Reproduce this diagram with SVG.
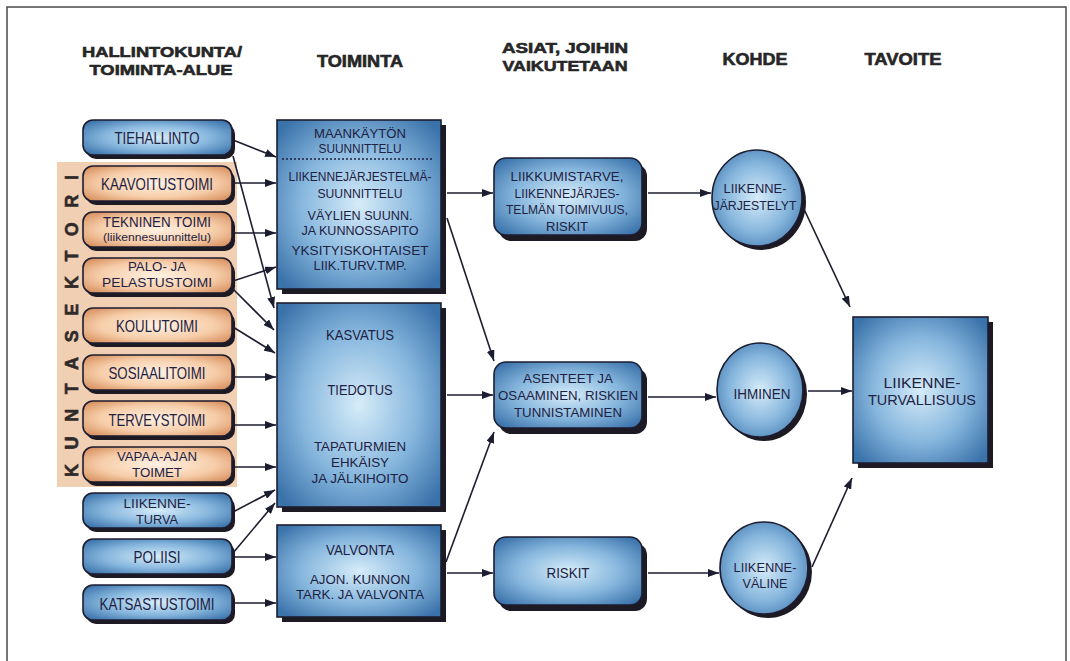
<svg xmlns="http://www.w3.org/2000/svg" width="1070" height="661" viewBox="0 0 1070 661">
<defs>
<radialGradient id="gB" cx="50%" cy="50%" r="65%">
<stop offset="0" stop-color="#d6ecf9"/>
<stop offset="0.55" stop-color="#86b6dd"/>
<stop offset="1" stop-color="#3a72aa"/>
</radialGradient>
<radialGradient id="gP" cx="50%" cy="50%" r="65%">
<stop offset="0" stop-color="#fff1e2"/>
<stop offset="0.6" stop-color="#f6cda9"/>
<stop offset="1" stop-color="#d8905f"/>
</radialGradient>
<marker id="ah" markerWidth="11" markerHeight="8" refX="11" refY="4" orient="auto" markerUnits="userSpaceOnUse">
<path d="M0,0 L11,4 L0,8 z" fill="#1c1d30"/>
</marker>
</defs>
<style>
.sh{fill:#1d1a24}
.bx{stroke:#1d1d30;stroke-width:1.6}
.b{fill:url(#gB)}
.p{fill:url(#gP)}
.n{font-family:"Liberation Sans",Arial,sans-serif;font-size:15px;fill:#1e2142;text-anchor:middle}
.s{font-size:17px}
.t{font-size:13.5px}
.sm{font-size:11px}
.h{font-family:"Liberation Sans",Arial,sans-serif;font-weight:bold;font-size:17px;fill:#262626;stroke:#262626;stroke-width:0.6;text-anchor:middle}
.h2{font-size:15.5px}
.c line{stroke:#1c1d30;stroke-width:1.6;marker-end:url(#ah)}
</style>
<rect x="0" y="0" width="1070" height="661" fill="#ffffff"/>
<rect x="7" y="7" width="1059" height="670" fill="none" stroke="#4a4a4a" stroke-width="1.5"/>

<g id="headers">
<text class="h h2" x="162" y="57" textLength="160" lengthAdjust="spacingAndGlyphs">HALLINTOKUNTA/</text>
<text class="h h2" x="161" y="75" textLength="143" lengthAdjust="spacingAndGlyphs">TOIMINTA-ALUE</text>
<text class="h" x="360" y="67" textLength="86" lengthAdjust="spacingAndGlyphs">TOIMINTA</text>
<text class="h h2" x="565" y="53" textLength="126" lengthAdjust="spacingAndGlyphs">ASIAT, JOIHIN</text>
<text class="h h2" x="565" y="71" textLength="125" lengthAdjust="spacingAndGlyphs">VAIKUTETAAN</text>
<text class="h" x="755" y="65" textLength="65" lengthAdjust="spacingAndGlyphs">KOHDE</text>
<text class="h" x="903" y="65" textLength="77" lengthAdjust="spacingAndGlyphs">TAVOITE</text>
</g>

<g id="kuntasektori">
<rect x="57" y="162" width="180" height="325" fill="#f1cfb2"/>
<text class="h" transform="translate(78,326) rotate(-90)" x="0" y="0" textLength="302" lengthAdjust="spacing" style="font-size:18px;fill:#2e2a2a;stroke:#2e2a2a">KUNTASEKTORI</text>
</g>

<g id="tiehallinto"><rect class="sh" x="86" y="124" width="149" height="35" rx="10"/><rect class="bx b" x="83" y="120" width="149" height="35" rx="10"/><text class="n s" x="157" y="144" textLength="85" lengthAdjust="spacingAndGlyphs">TIEHALLINTO</text></g>
<g id="kaavoitustoimi"><rect class="sh" x="86" y="170" width="149" height="35" rx="10"/><rect class="bx p" x="83" y="166" width="149" height="35" rx="10"/><text class="n s" x="157" y="190" textLength="112" lengthAdjust="spacingAndGlyphs">KAAVOITUSTOIMI</text></g>
<g id="tekninen"><rect class="sh" x="86" y="216" width="149" height="35" rx="10"/><rect class="bx p" x="83" y="212" width="149" height="35" rx="10"/><text class="n" x="157" y="227" textLength="108" lengthAdjust="spacingAndGlyphs">TEKNINEN TOIMI</text><text class="n sm" x="157" y="241" textLength="108" lengthAdjust="spacingAndGlyphs">(liikennesuunnittelu)</text></g>
<g id="palo"><rect class="sh" x="86" y="262" width="149" height="35" rx="10"/><rect class="bx p" x="83" y="258" width="149" height="35" rx="10"/><text class="n t" x="157" y="271" textLength="58" lengthAdjust="spacingAndGlyphs">PALO- JA</text><text class="n t" x="157" y="287" textLength="110" lengthAdjust="spacingAndGlyphs">PELASTUSTOIMI</text></g>
<g id="koulutoimi"><rect class="sh" x="86" y="312" width="149" height="35" rx="10"/><rect class="bx p" x="83" y="308" width="149" height="35" rx="10"/><text class="n s" x="157" y="332" textLength="82" lengthAdjust="spacingAndGlyphs">KOULUTOIMI</text></g>
<g id="sosiaalitoimi"><rect class="sh" x="86" y="359" width="149" height="35" rx="10"/><rect class="bx p" x="83" y="355" width="149" height="35" rx="10"/><text class="n s" x="157" y="379" textLength="97" lengthAdjust="spacingAndGlyphs">SOSIAALITOIMI</text></g>
<g id="terveystoimi"><rect class="sh" x="86" y="405" width="149" height="35" rx="10"/><rect class="bx p" x="83" y="401" width="149" height="35" rx="10"/><text class="n s" x="157" y="426" textLength="97" lengthAdjust="spacingAndGlyphs">TERVEYSTOIMI</text></g>
<g id="vapaa-ajan"><rect class="sh" x="86" y="451" width="149" height="35" rx="10"/><rect class="bx p" x="83" y="447" width="149" height="35" rx="10"/><text class="n t" x="157" y="461" textLength="80" lengthAdjust="spacingAndGlyphs">VAPAA-AJAN</text><text class="n t" x="157" y="477" textLength="50" lengthAdjust="spacingAndGlyphs">TOIMET</text></g>
<g id="liikenneturva"><rect class="sh" x="86" y="497" width="149" height="35" rx="10"/><rect class="bx b" x="83" y="493" width="149" height="35" rx="10"/><text class="n t" x="157" y="508" textLength="67" lengthAdjust="spacingAndGlyphs">LIIKENNE-</text><text class="n t" x="157" y="524" textLength="42" lengthAdjust="spacingAndGlyphs">TURVA</text></g>
<g id="poliisi"><rect class="sh" x="86" y="543" width="149" height="35" rx="10"/><rect class="bx b" x="83" y="539" width="149" height="35" rx="10"/><text class="n s" x="157" y="563" textLength="47" lengthAdjust="spacingAndGlyphs">POLIISI</text></g>
<g id="katsastustoimi"><rect class="sh" x="86" y="589" width="149" height="35" rx="10"/><rect class="bx b" x="83" y="585" width="149" height="35" rx="10"/><text class="n s" x="157" y="610" textLength="115" lengthAdjust="spacingAndGlyphs">KATSASTUSTOIMI</text></g>

<g id="suunnittelu"><rect class="sh" x="282" y="125" width="164" height="169"/><rect class="bx b" x="277" y="120" width="164" height="169"/>
<text class="n t" x="360" y="138" textLength="92" lengthAdjust="spacingAndGlyphs">MAANKÄYTÖN</text>
<text class="n t" x="360" y="153" textLength="83" lengthAdjust="spacingAndGlyphs">SUUNNITTELU</text>
<line x1="282" y1="159" x2="433" y2="159" stroke="#1e2142" stroke-width="1.6" stroke-dasharray="2,2"/>
<text class="n t" x="360" y="181" textLength="143" lengthAdjust="spacingAndGlyphs">LIIKENNEJÄRJESTELMÄ-</text>
<text class="n t" x="360" y="198" textLength="85" lengthAdjust="spacingAndGlyphs">SUUNNITTELU</text>
<text class="n t" x="360" y="220" textLength="105" lengthAdjust="spacingAndGlyphs">VÄYLIEN SUUNN.</text>
<text class="n t" x="360" y="235" textLength="117" lengthAdjust="spacingAndGlyphs">JA KUNNOSSAPITO</text>
<text class="n t" x="360" y="255" textLength="137" lengthAdjust="spacingAndGlyphs">YKSITYISKOHTAISET</text>
<text class="n t" x="360" y="270" textLength="93" lengthAdjust="spacingAndGlyphs">LIIK.TURV.TMP.</text>
</g>
<g id="kasvatus"><rect class="sh" x="282" y="308" width="164" height="204"/><rect class="bx b" x="277" y="303" width="164" height="204"/>
<text class="n" x="360" y="340" textLength="68" lengthAdjust="spacingAndGlyphs">KASVATUS</text>
<text class="n" x="360" y="395" textLength="65" lengthAdjust="spacingAndGlyphs">TIEDOTUS</text>
<text class="n t" x="360" y="451" textLength="92" lengthAdjust="spacingAndGlyphs">TAPATURMIEN</text>
<text class="n t" x="360" y="467" textLength="58" lengthAdjust="spacingAndGlyphs">EHKÄISY</text>
<text class="n t" x="360" y="483" textLength="97" lengthAdjust="spacingAndGlyphs">JA JÄLKIHOITO</text>
</g>
<g id="valvonta"><rect class="sh" x="282" y="530" width="164" height="92"/><rect class="bx b" x="277" y="525" width="164" height="92"/>
<text class="n" x="360" y="555" textLength="68" lengthAdjust="spacingAndGlyphs">VALVONTA</text>
<text class="n t" x="360" y="584" textLength="100" lengthAdjust="spacingAndGlyphs">AJON. KUNNON</text>
<text class="n t" x="360" y="599" textLength="128" lengthAdjust="spacingAndGlyphs">TARK. JA VALVONTA</text>
</g>

<g id="liikkumistarve"><rect class="sh" x="499" y="164" width="148" height="77" rx="12"/><rect class="bx b" x="494" y="158" width="148" height="77" rx="12"/>
<text class="n t" x="567" y="181" textLength="113" lengthAdjust="spacingAndGlyphs">LIIKKUMISTARVE,</text>
<text class="n t" x="567" y="198" textLength="105" lengthAdjust="spacingAndGlyphs">LIIKENNEJÄRJES-</text>
<text class="n t" x="567" y="214" textLength="122" lengthAdjust="spacingAndGlyphs">TELMÄN TOIMIVUUS,</text>
<text class="n t" x="567" y="231" textLength="42" lengthAdjust="spacingAndGlyphs">RISKIT</text>
</g>
<g id="asenteet"><rect class="sh" x="499" y="368" width="148" height="66" rx="12"/><rect class="bx b" x="494" y="362" width="148" height="66" rx="12"/>
<text class="n t" x="568" y="383" textLength="90" lengthAdjust="spacingAndGlyphs">ASENTEET JA</text>
<text class="n t" x="568" y="400" textLength="140" lengthAdjust="spacingAndGlyphs">OSAAMINEN, RISKIEN</text>
<text class="n t" x="568" y="417" textLength="108" lengthAdjust="spacingAndGlyphs">TUNNISTAMINEN</text>
</g>
<g id="riskit"><rect class="sh" x="499" y="543" width="148" height="68" rx="12"/><rect class="bx b" x="494" y="537" width="148" height="68" rx="12"/>
<text class="n" x="568" y="578" textLength="43" lengthAdjust="spacingAndGlyphs">RISKIT</text>
</g>

<g id="liikennejarjestelyt"><ellipse class="sh" cx="761" cy="202" rx="45" ry="48"/><ellipse class="bx b" cx="757" cy="198" rx="45" ry="48"/>
<text class="n t" x="755" y="193" textLength="63" lengthAdjust="spacingAndGlyphs">LIIKENNE-</text>
<text class="n t" x="755" y="210" textLength="83" lengthAdjust="spacingAndGlyphs">JÄRJESTELYT</text>
</g>
<g id="ihminen"><ellipse class="sh" cx="764" cy="394" rx="43" ry="47"/><ellipse class="bx b" cx="760" cy="390" rx="43" ry="47"/>
<text class="n" x="762" y="399" textLength="57" lengthAdjust="spacingAndGlyphs">IHMINEN</text>
</g>
<g id="liikennevaline"><ellipse class="sh" cx="768" cy="572" rx="44" ry="46"/><ellipse class="bx b" cx="764" cy="568" rx="44" ry="46"/>
<text class="n t" x="765" y="572" textLength="63" lengthAdjust="spacingAndGlyphs">LIIKENNE-</text>
<text class="n t" x="765" y="588" textLength="45" lengthAdjust="spacingAndGlyphs">VÄLINE</text>
</g>

<g id="liikenneturvallisuus"><rect class="sh" x="858" y="322" width="135" height="146"/><rect class="bx b" x="853" y="317" width="135" height="146"/>
<text class="n" x="922" y="388" textLength="77" lengthAdjust="spacingAndGlyphs">LIIKENNE-</text>
<text class="n" x="922" y="405" textLength="108" lengthAdjust="spacingAndGlyphs">TURVALLISUUS</text>
</g>

<g id="connectors" class="c">
<line x1="233" y1="140" x2="276" y2="157"/>
<line x1="233" y1="156" x2="274" y2="308"/>
<line x1="233" y1="183" x2="276" y2="183"/>
<line x1="233" y1="233" x2="276" y2="233"/>
<line x1="233" y1="281" x2="276" y2="267"/>
<line x1="233" y1="289" x2="274" y2="330"/>
<line x1="233" y1="327" x2="275" y2="353"/>
<line x1="233" y1="377" x2="276" y2="377"/>
<line x1="233" y1="425" x2="276" y2="425"/>
<line x1="233" y1="467" x2="276" y2="467"/>
<line x1="233" y1="512" x2="275" y2="490"/>
<line x1="233" y1="553" x2="275" y2="503"/>
<line x1="233" y1="557" x2="276" y2="557"/>
<line x1="233" y1="603" x2="276" y2="603"/>
<line x1="447" y1="193" x2="493" y2="193"/>
<line x1="447" y1="218" x2="494" y2="361"/>
<line x1="447" y1="395" x2="493" y2="395"/>
<line x1="446" y1="562" x2="494" y2="432"/>
<line x1="447" y1="573" x2="493" y2="573"/>
<line x1="648" y1="193" x2="711" y2="193"/>
<line x1="648" y1="397" x2="716" y2="397"/>
<line x1="648" y1="573" x2="719" y2="573"/>
<line x1="803" y1="207" x2="850" y2="307"/>
<line x1="808" y1="391" x2="852" y2="391"/>
<line x1="812" y1="567" x2="852" y2="478"/>
</g>
</svg>
